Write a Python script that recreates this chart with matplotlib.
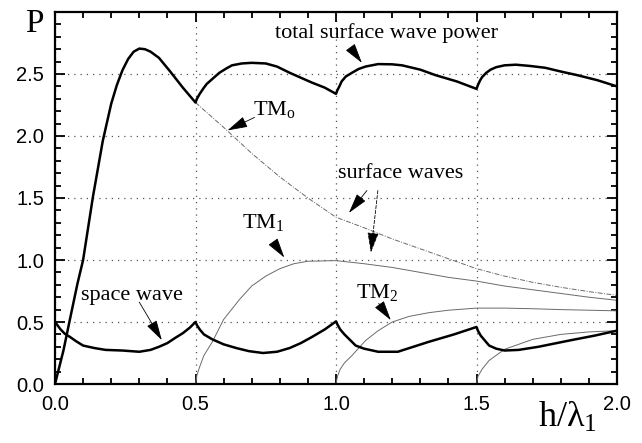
import matplotlib
matplotlib.use("Agg")
import matplotlib.pyplot as plt
from matplotlib.ticker import MultipleLocator

plt.rcParams['mathtext.fontset'] = 'custom'
plt.rcParams['mathtext.rm'] = 'Liberation Serif'
plt.rcParams['mathtext.it'] = 'Liberation Serif:italic'

# ---- data ----
total_x = [0.0, 0.03, 0.053, 0.08, 0.1, 0.135, 0.17, 0.2, 0.22, 0.24, 0.26, 0.28, 0.3, 0.32, 0.34,
           0.37, 0.41, 0.455, 0.5,
           0.505, 0.515, 0.53, 0.54, 0.56, 0.585, 0.61, 0.63, 0.665, 0.70, 0.75, 0.79, 0.835,
           0.875, 0.915, 0.96, 1.0,
           1.005, 1.012, 1.02, 1.035, 1.057, 1.08, 1.105, 1.15, 1.2, 1.235, 1.3, 1.355, 1.43, 1.5,
           1.505, 1.512, 1.52, 1.535, 1.55, 1.57, 1.6, 1.64, 1.69, 1.745, 1.8, 1.86, 1.93, 2.0]
total_y = [0.0, 0.27, 0.52, 0.81, 1.0, 1.51, 1.96, 2.26, 2.41, 2.53, 2.62, 2.68, 2.705, 2.70, 2.68,
           2.63, 2.52, 2.39, 2.27,
           2.30, 2.34, 2.39, 2.42, 2.46, 2.51, 2.545, 2.57, 2.585, 2.59, 2.585, 2.56, 2.51,
           2.47, 2.43, 2.39, 2.34,
           2.37, 2.40, 2.44, 2.48, 2.51, 2.54, 2.56, 2.58, 2.578, 2.57, 2.535, 2.49, 2.44, 2.38,
           2.41, 2.445, 2.475, 2.51, 2.535, 2.555, 2.57, 2.575, 2.565, 2.55, 2.52, 2.49, 2.45, 2.40]

space_x = [0.0, 0.02, 0.035, 0.053, 0.075, 0.1, 0.14, 0.18, 0.24, 0.3, 0.34, 0.37, 0.4, 0.43,
           0.455, 0.48, 0.5,
           0.505, 0.515, 0.53, 0.56, 0.6, 0.645, 0.69, 0.74, 0.79, 0.835, 0.875, 0.915, 0.96, 1.0,
           1.005, 1.015, 1.03, 1.05, 1.07, 1.1, 1.15, 1.22, 1.33, 1.42, 1.5,
           1.505, 1.515, 1.53, 1.545, 1.57, 1.6, 1.65, 1.72, 1.84, 1.92, 2.0]
space_y = [0.50, 0.44, 0.405, 0.38, 0.345, 0.31, 0.29, 0.275, 0.27, 0.26, 0.275, 0.30, 0.33,
           0.375, 0.41, 0.455, 0.50,
           0.475, 0.44, 0.40, 0.36, 0.32, 0.29, 0.265, 0.25, 0.26, 0.29, 0.33, 0.38, 0.44, 0.505,
           0.48, 0.44, 0.40, 0.355, 0.31, 0.285, 0.26, 0.26, 0.34, 0.40, 0.46,
           0.43, 0.39, 0.35, 0.31, 0.285, 0.27, 0.275, 0.30, 0.355, 0.39, 0.43]

tm0_x = [0.5, 0.6, 0.7, 0.8, 0.9, 1.0, 1.1, 1.2, 1.3, 1.4, 1.5, 1.6, 1.7, 1.8, 1.9, 2.0]
tm0_y = [2.27, 2.07, 1.86, 1.67, 1.50, 1.345, 1.26, 1.17, 1.09, 1.01, 0.93, 0.87, 0.82, 0.78, 0.745, 0.715]

tm1_x = [0.5, 0.505, 0.515, 0.53, 0.56, 0.6, 0.656, 0.7, 0.75, 0.8, 0.85, 0.9, 1.0, 1.1, 1.2, 1.3,
         1.4, 1.5, 1.6, 1.7, 1.8, 1.9, 2.0]
tm1_y = [0.0, 0.07, 0.14, 0.23, 0.34, 0.52, 0.68, 0.79, 0.87, 0.93, 0.97, 0.99, 0.995, 0.97, 0.94,
         0.90, 0.86, 0.83, 0.79, 0.76, 0.73, 0.70, 0.675]

tm2_x = [1.0, 1.005, 1.015, 1.03, 1.057, 1.105, 1.15, 1.2, 1.26, 1.33, 1.4, 1.5, 1.6, 1.7, 1.8, 1.9, 2.0]
tm2_y = [0.0, 0.06, 0.12, 0.17, 0.23, 0.35, 0.43, 0.50, 0.545, 0.575, 0.595, 0.612, 0.612, 0.607,
         0.60, 0.595, 0.59]

tm3_x = [1.5, 1.505, 1.52, 1.545, 1.6, 1.7, 1.8, 1.9, 2.0]
tm3_y = [0.0, 0.06, 0.12, 0.19, 0.28, 0.36, 0.40, 0.42, 0.43]

x_ticks = [0.0, 0.5, 1.0, 1.5, 2.0]
x_ticklabels = ["0.0", "0.5", "1.0", "1.5", ""]
y_ticks = [0.0, 0.5, 1.0, 1.5, 2.0, 2.5]
y_ticklabels = ["0.0", "0.5", "1.0", "1.5", "2.0", "2.5"]

# ---- figure ----
fig = plt.figure(figsize=(6.42, 4.43), dpi=100)
ax = fig.add_axes([55/642, 1-384/443, (617-55)/642, (384-12)/443])

thin = dict(color='#6a6a6a', lw=0.7)
ax.plot(tm0_x, tm0_y, linestyle=(0, (5, 1.5, 1, 1.5)), **thin)
ax.plot(tm1_x, tm1_y, linestyle='-', **thin)
ax.plot(tm2_x, tm2_y, linestyle='-', **thin)
ax.plot(tm3_x, tm3_y, linestyle='-', **thin)
ax.plot(total_x, total_y, color='black', lw=1.8)
ax.plot(space_x, space_y, color='black', lw=1.8)

ax.set_xlim(0, 2.0)
ax.set_ylim(0, 3.0)
ax.set_xticks(x_ticks)
ax.set_xticklabels(x_ticklabels)
ax.set_yticks(y_ticks)
ax.set_yticklabels(y_ticklabels)
ax.xaxis.set_minor_locator(MultipleLocator(0.1))
ax.yaxis.set_minor_locator(MultipleLocator(0.1))
ax.tick_params(which='both', direction='in', top=True, right=True, width=1.3)
ax.tick_params(which='major', length=7, labelsize=14.5, pad=8)
ax.tick_params(which='minor', length=4.5)
for lab in ax.get_xticklabels() + ax.get_yticklabels():
    lab.set_fontfamily('Liberation Sans')
for s in ax.spines.values():
    s.set_linewidth(1.6)
ax.grid(True, which='major', color='#555555', linestyle=(0, (1, 4)), lw=0.9)

serif = dict(family='Liberation Serif', fontsize=16)
ap = dict(arrowstyle='-|>,head_length=0.9,head_width=0.25', lw=0.6, color='black',
          mutation_scale=14, shrinkA=0, shrinkB=0)

ax.text(1.18, 2.83, "total surface wave power", ha='center', va='center', **serif)
ax.annotate("", xy=(1.092, 2.59), xytext=(1.053, 2.71), arrowprops=dict(ap))
ax.text(0.78, 2.21, r"TM$_\mathrm{o}$", ha='center', va='center', **serif)
ax.annotate("", xy=(0.614, 2.045), xytext=(0.71, 2.15), arrowprops=dict(ap))
ax.text(1.23, 1.70, "surface waves", ha='center', va='center', **serif)
ax.annotate("", xy=(1.046, 1.38), xytext=(1.11, 1.56), arrowprops=dict(ap))
ax.annotate("", xy=(1.124, 1.06), xytext=(1.149, 1.56),
            arrowprops=dict(ap, linestyle=(0, (4, 2))))
ax.text(0.74, 1.30, r"TM$_\mathrm{1}$", ha='center', va='center', **serif)
ax.annotate("", xy=(0.816, 1.02), xytext=(0.78, 1.135), arrowprops=dict(ap))
ax.text(0.273, 0.71, "space wave", ha='center', va='center', **serif)
ax.annotate("", xy=(0.38, 0.354), xytext=(0.30, 0.66), arrowprops=dict(ap))
ax.text(1.145, 0.74, r"TM$_\mathrm{2}$", ha='center', va='center', **serif)
ax.annotate("", xy=(1.195, 0.515), xytext=(1.152, 0.65), arrowprops=dict(ap))

fig.text(34/642, 1 - 32/443, "P", family='Liberation Serif', fontsize=24,
         ha='center', va='baseline')
fig.text(538/642, 1 - 427/443, r"$\mathrm{h/\lambda_1}$", fontsize=26,
         ha='left', va='baseline')
fig.text(617/642, 1 - 410/443, "2.0", fontsize=14.5, family='Liberation Sans',
         ha='center', va='baseline')

fig.savefig("out.png", dpi=100)
